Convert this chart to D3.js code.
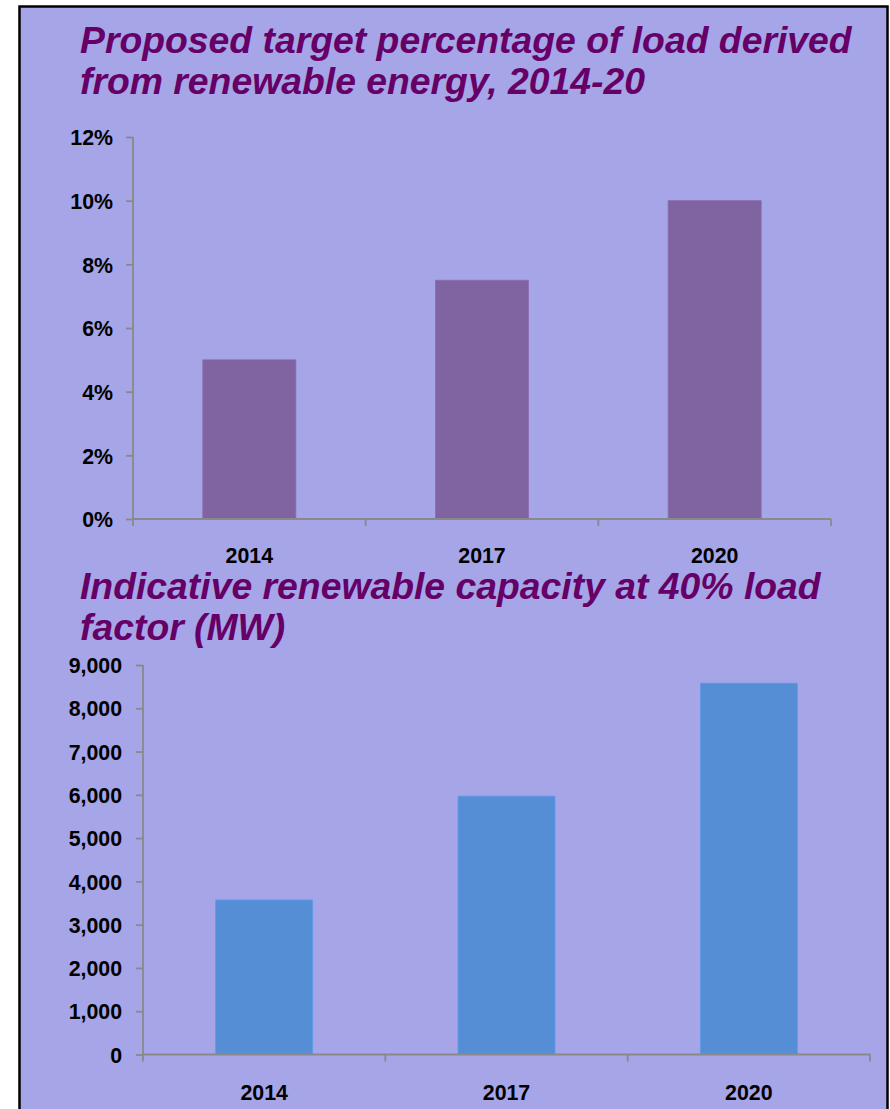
<!DOCTYPE html>
<html>
<head>
<meta charset="utf-8">
<script src="https://cdn.jsdelivr.net/npm/d3@7"></script>
<style>
  html, body { margin: 0; padding: 0; background: #ffffff; }
  svg { display: block; }
  text { font-family: "Liberation Sans", Arial, sans-serif; }
</style>
</head>
<body>
<svg id="chart" width="890" height="1109"></svg>
<script>
// ---- Data ----
const categories = ["2014", "2017", "2020"];
const targetPct = [5, 7.5, 10];               // % of load from renewables
const capacityMW = [3570, 5970, 8580];         // MW at 40% load factor
const pctTicks = [0, 2, 4, 6, 8, 10, 12];
const mwTicks = [0, 1000, 2000, 3000, 4000, 5000, 6000, 7000, 8000, 9000];
const title1 = ["Proposed target percentage of load derived", "from renewable energy, 2014-20"];
const title2 = ["Indicative renewable capacity at 40% load", "factor (MW)"];

// ---- Styles ----
const BG = "#a5a5e8";
const TITLE_COLOR = "#660066";
const AXIS_COLOR = "#898989";

const svg = d3.select("#chart");

// background panel with border
svg.append("rect")
  .attr("x", 19.5).attr("y", 6.5)
  .attr("width", 868).attr("height", 1200)
  .attr("fill", BG)
  .attr("stroke", "#000").attr("stroke-width", 2.5);

function drawTitle(lines, x, y0, lh) {
  const t = svg.append("text")
    .attr("x", x).attr("y", y0)
    .attr("fill", TITLE_COLOR)
    .style("font-size", "37.33px")
    .style("font-weight", "bold")
    .style("font-style", "italic");
  lines.forEach((ln, i) => {
    t.append("tspan").attr("x", x).attr("y", y0 + i * lh).text(ln);
  });
}

function drawBarChart(opts) {
  const { values, ticks, fmt, xRange, yRange, domainMax, color, labelBaseline, labelGap } = opts;
  const x = d3.scaleBand().domain(categories).range(xRange).paddingInner(0.6).paddingOuter(0.3);
  const y = d3.scaleLinear().domain([0, domainMax]).range(yRange);
  const g = svg.append("g");

  // bars
  g.selectAll("rect.bar").data(values).join("rect")
    .attr("class", "bar")
    .attr("x", (d, i) => x(categories[i]))
    .attr("width", x.bandwidth())
    .attr("y", d => y(d))
    .attr("height", d => y(0) - y(d))
    .attr("fill", color)
    .attr("stroke", d3.color(color).brighter(0.25))
    .attr("stroke-width", 0.8);

  // y axis
  const yAxis = d3.axisLeft(y).tickValues(ticks).tickFormat(fmt).tickSize(7).tickPadding(labelGap).tickSizeOuter(0);
  const ya = g.append("g").attr("transform", `translate(${xRange[0]},0)`).call(yAxis);
  ya.select(".domain").attr("stroke", AXIS_COLOR).attr("stroke-width", 1.8)
    .attr("d", `M0,${yRange[1]}V${yRange[0] + 7}`);
  ya.selectAll(".tick line").attr("stroke", AXIS_COLOR).attr("stroke-width", 1.8);
  ya.selectAll(".tick text")
    .attr("fill", "#000")
    .style("font-size", "21.33px")
    .style("font-weight", "bold")
    .attr("dy", "0.36em");

  // x axis baseline
  const y0 = y(0);
  g.append("line")
    .attr("x1", xRange[0]).attr("x2", xRange[1])
    .attr("y1", y0).attr("y2", y0)
    .attr("stroke", AXIS_COLOR).attr("stroke-width", 1.8);
  // boundary ticks
  const bounds = d3.range(categories.length + 1).map(i => xRange[0] + i * x.step());
  g.selectAll("line.xt").data(bounds.slice(1)).join("line")
    .attr("class", "xt")
    .attr("x1", d => d).attr("x2", d => d)
    .attr("y1", y0).attr("y2", y0 + 7)
    .attr("stroke", AXIS_COLOR).attr("stroke-width", 1.8);

  // category labels
  g.selectAll("text.xl").data(categories).join("text")
    .attr("class", "xl")
    .attr("x", d => x(d) + x.bandwidth() / 2)
    .attr("y", labelBaseline)
    .attr("text-anchor", "middle")
    .attr("fill", "#000")
    .style("font-size", "21.33px")
    .style("font-weight", "bold")
    .text(d => d);
}

drawTitle(title1, 80, 53, 41);
drawBarChart({
  values: targetPct, ticks: pctTicks, fmt: d => d + "%",
  xRange: [133, 831], yRange: [519, 137], domainMax: 12,
  color: "#8064a2", labelBaseline: 563, labelGap: 13
});

drawTitle(title2, 80, 599, 41);
drawBarChart({
  values: capacityMW, ticks: mwTicks, fmt: d3.format(","),
  xRange: [143, 870], yRange: [1054.5, 665], domainMax: 9000,
  color: "#558ed5", labelBaseline: 1100, labelGap: 14
});
</script>
</body>
</html>
